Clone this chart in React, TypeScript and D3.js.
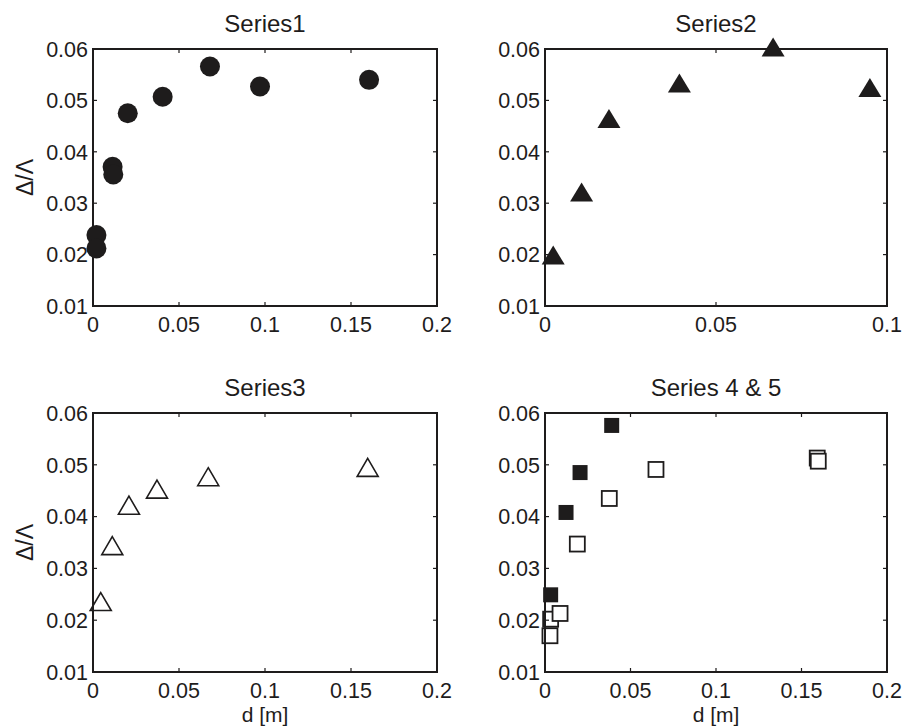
import React from 'react';
import * as d3 from 'd3';

// values: d [m] and Δ/Λ
const s1X = [0.002, 0.002, 0.0114, 0.0118, 0.0202, 0.0405, 0.068, 0.0971, 0.1605];
const s1Y = [0.0238, 0.0212, 0.0371, 0.0356, 0.0475, 0.0507, 0.0566, 0.0527, 0.054];

const s2X = [0.0024, 0.0107, 0.0187, 0.0393, 0.0667, 0.095];
const s2Y = [0.0199, 0.0322, 0.0465, 0.0534, 0.0604, 0.0525];

const s3X = [0.0045, 0.0112, 0.0209, 0.0372, 0.067, 0.1597];
const s3Y = [0.0236, 0.0344, 0.0422, 0.0453, 0.0477, 0.0495];

const s4X = [0.0033, 0.0123, 0.0205, 0.039];
const s4Y = [0.0249, 0.0408, 0.0485, 0.0576];

const s5X = [0.0029, 0.0033, 0.0088, 0.0189, 0.0376, 0.0649, 0.1592, 0.1598];
const s5Y = [0.017, 0.0202, 0.0213, 0.0347, 0.0435, 0.0491, 0.0513, 0.0507];

const yTicks = [0.01, 0.02, 0.03, 0.04, 0.05, 0.06];
const xTicksWide = [0, 0.05, 0.1, 0.15, 0.2];
const xTicksNarrow = [0, 0.05, 0.1];

const INK = '#1e1c1c';
const FONT = 'Helvetica, Arial, "Liberation Sans", sans-serif';

type Marker = 'circle' | 'triFill' | 'triOpen' | 'sqFill' | 'sqOpen';
type Series = { xs: number[]; ys: number[]; marker: Marker };

const mark = (m: Marker, cx: number, cy: number, key: string) => {
  if (m === 'circle') return <circle key={key} cx={cx} cy={cy} r={10} fill={INK} />;
  if (m === 'triFill' || m === 'triOpen') {
    const w = m === 'triFill' ? 23 : 21;
    const h = m === 'triFill' ? 19 : 18;
    const p = `M${cx},${cy - h / 2}L${cx + w / 2},${cy + h / 2}L${cx - w / 2},${cy + h / 2}Z`;
    return m === 'triFill'
      ? <path key={key} d={p} fill={INK} />
      : <path key={key} d={p} fill="none" stroke={INK} strokeWidth={1.6} strokeLinejoin="miter" />;
  }
  const s = 15;
  return m === 'sqFill'
    ? <rect key={key} x={cx - s / 2} y={cy - s / 2} width={s} height={s} fill={INK} />
    : <rect key={key} x={cx - s / 2} y={cy - s / 2} width={s} height={s} fill="white" stroke={INK} strokeWidth={1.8} />;
};

const Panel = ({ left, top, width, height, xMax, xTicks, title, ylabel, xlabel, series }: {
  left: number; top: number; width: number; height: number; xMax: number; xTicks: number[];
  title: string; ylabel?: boolean; xlabel?: boolean; series: Series[];
}) => {
  const x = d3.scaleLinear().domain([0, xMax]).range([left, left + width]);
  const y = d3.scaleLinear().domain([0.01, 0.06]).range([top + height, top]);
  const fmt = (v: number) => (v === 0 ? '0' : String(+v.toFixed(3)));
  const tl = 4;
  return (
    <g fontFamily={FONT} fill={INK}>
      <text x={left + width / 2} y={top - 17} textAnchor="middle" fontSize={24}>{title}</text>
      {series.map((s, si) => s.xs.map((xv, i) => mark(s.marker, x(xv), y(s.ys[i]), `${si}-${i}`)))}
      {xTicks.map((t) => (
        <g key={'x' + t}>
          <line x1={x(t)} x2={x(t)} y1={top + height} y2={top + height - tl} stroke={INK} strokeWidth={1.2} />
          <line x1={x(t)} x2={x(t)} y1={top} y2={top + tl} stroke={INK} strokeWidth={1.2} />
          <text x={x(t)} y={top + height + 26} textAnchor="middle" fontSize={21.5}>{fmt(t)}</text>
        </g>
      ))}
      {yTicks.map((t) => (
        <g key={'y' + t}>
          <line x1={left} x2={left + tl} y1={y(t)} y2={y(t)} stroke={INK} strokeWidth={1.2} />
          <line x1={left + width} x2={left + width - tl} y1={y(t)} y2={y(t)} stroke={INK} strokeWidth={1.2} />
          <text x={left - 5} y={y(t)} dy="0.36em" textAnchor="end" fontSize={21.5}>{fmt(t)}</text>
        </g>
      ))}
      <rect x={left} y={top} width={width} height={height} fill="none" stroke={INK} strokeWidth={2} />
      {ylabel && (
        <text transform={`translate(${left - 60},${top + height / 2}) rotate(-90)`} textAnchor="middle" fontSize={23}>Δ/Λ</text>
      )}
      {xlabel && (
        <text x={left + width / 2} y={top + height + 50} textAnchor="middle" fontSize={21}>d [m]</text>
      )}
    </g>
  );
};

export default function App() {
  return (
    <div style={{ position: 'absolute', left: 0, top: 0 }}>
      <svg width={904} height={727} style={{ display: 'block', background: 'white' }}>
        <Panel left={93} top={49} width={344} height={257} xMax={0.2} xTicks={xTicksWide} title="Series1" ylabel
          series={[{ xs: s1X, ys: s1Y, marker: 'circle' }]} />
        <Panel left={545} top={49} width={342} height={257} xMax={0.1} xTicks={xTicksNarrow} title="Series2"
          series={[{ xs: s2X, ys: s2Y, marker: 'triFill' }]} />
        <Panel left={93} top={413} width={344} height={259} xMax={0.2} xTicks={xTicksWide} title="Series3" ylabel xlabel
          series={[{ xs: s3X, ys: s3Y, marker: 'triOpen' }]} />
        <Panel left={545} top={413} width={342} height={259} xMax={0.2} xTicks={xTicksWide} title="Series 4 & 5" xlabel
          series={[{ xs: s5X, ys: s5Y, marker: 'sqOpen' }, { xs: s4X, ys: s4Y, marker: 'sqFill' }]} />
      </svg>
    </div>
  );
}
